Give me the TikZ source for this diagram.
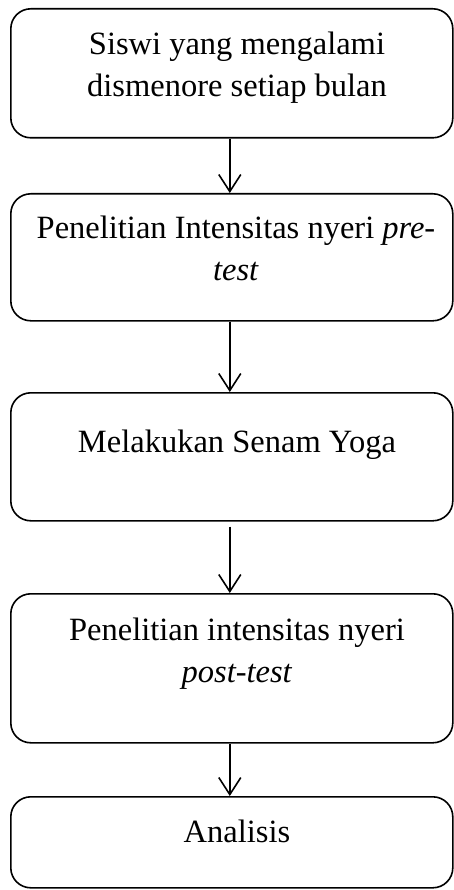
\documentclass[tikz,border=0pt]{standalone}
\usepackage{fontspec}
\setmainfont{Liberation Serif}
\usetikzlibrary{arrows.meta}
\begin{document}
\begin{tikzpicture}[x=1pt,y=-1pt,
  box/.style={draw, line width=1.6pt, rounded corners=20pt, inner sep=0pt, anchor=north west, minimum width=442pt},
  lbl/.style={font=\fontsize{32.5}{42}\selectfont, align=center, anchor=base, inner sep=0pt},
  arr/.style={line width=1.6pt, -{Straight Barb[length=17pt,width=22pt,line width=1.6pt]}}]
\useasboundingbox (0,0) rectangle (454,890);
\node[box, minimum height=129pt] (b1) at (10,8) {};
\node[box, minimum height=127pt] (b2) at (10,193) {};
\node[box, minimum height=128pt] (b3) at (10,392) {};
\node[box, minimum height=149pt] (b4) at (10,593) {};
\node[box, minimum height=91pt] (b5) at (10,796) {};
\node[lbl] (t1) at (237,97) {Siswi yang mengalami\\dismenore setiap bulan};
\node[lbl] (t2) at (236,280) {Penelitian Intensitas nyeri \textit{pre-}\\\textit{test}};
\node[lbl] (t3) at (237,452) {Melakukan Senam Yoga};
\node[lbl] (t4) at (237,682) {Penelitian intensitas nyeri\\\textit{post-test}};
\node[lbl] (t5) at (237,842) {Analisis};
\draw[arr] ([xshift=-2pt]b1.south) -- ([xshift=-2pt]b2.north);
\draw[arr] ([xshift=-2pt]b2.south) -- ([xshift=-2pt]b3.north);
\draw[arr] ([xshift=-2pt,yshift=-5pt]b3.south) -- ([xshift=-2pt]b4.north);
\draw[arr] ([xshift=-2pt]b4.south) -- ([xshift=-2pt]b5.north);
\end{tikzpicture}
\end{document}
